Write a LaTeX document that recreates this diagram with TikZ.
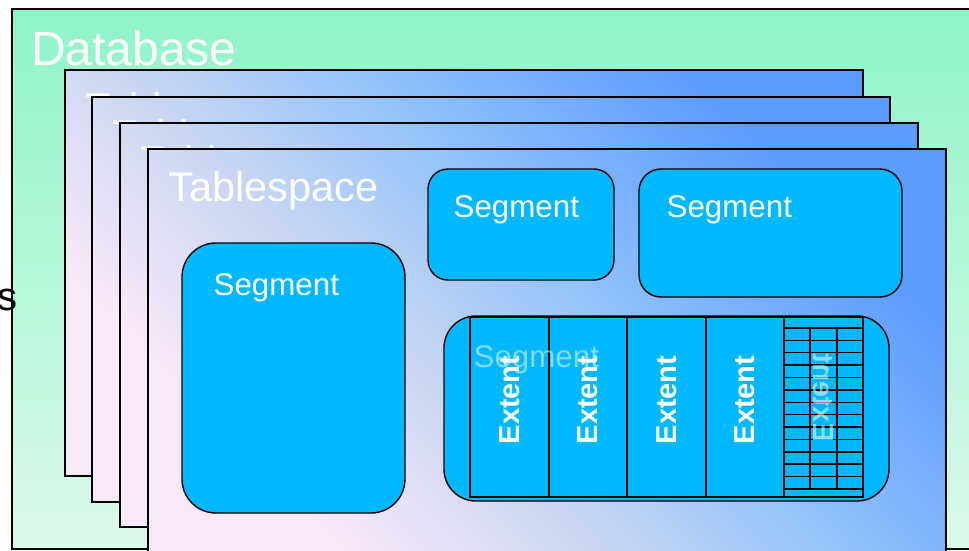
\documentclass[tikz,border=0pt]{standalone}
\usepackage{fontspec}
\setmainfont{Liberation Sans}
\definecolor{dbTop}{RGB}{143,244,201}
\definecolor{dbBot}{RGB}{220,249,234}
\definecolor{tsTop}{RGB}{92,156,255}
\definecolor{tsMid}{RGB}{150,196,250}
\definecolor{tsLav}{RGB}{200,214,242}
\definecolor{tsBot}{RGB}{248,232,248}
\definecolor{segBlue}{RGB}{0,184,255}
\pgfdeclareverticalshading{tsshade}{100bp}{color(0bp)=(tsBot); color(27bp)=(tsBot); color(42bp)=(tsLav); color(55bp)=(tsMid); color(75bp)=(tsTop); color(100bp)=(tsTop)}
\begin{document}
\begin{tikzpicture}[x=1pt,y=-1pt,
  tsbox/.style={draw=black,line width=1.4pt,shading=tsshade,shading angle=-45},
  segbox/.style={draw=black,line width=1.4pt,fill=segBlue},
  tslabel/.style={anchor=base west,inner sep=0,text=white,font=\fontsize{41.5}{41.5}\selectfont},
  seglabel/.style={anchor=base west,inner sep=0,text=white,font=\fontsize{31.3}{31.3}\selectfont},
  extlabel/.style={inner sep=0,text=white,font=\bfseries\fontsize{29}{29}\selectfont,rotate=90},
  gridline/.style={draw=black,line width=1.4pt}
]
\useasboundingbox (0,0) rectangle (969,550);
\clip (0,0) rectangle (969,550);
\fill[white] (0,0) rectangle (969,550);
% Database
\draw[line width=1.6pt,top color=dbTop,bottom color=dbBot] (12,9) rectangle (995,549);
\node[anchor=base west,inner sep=0,text=white,font=\fontsize{48}{48}\selectfont] (db) at (31,65) {Database};
\node[anchor=base west,inner sep=0,text=black,font=\fontsize{40}{40}\selectfont] (s) at (-3,310) {s};
% Tablespaces
\foreach \l/\t/\r/\b [count=\i] in {65/70/863/476, 92/97/890/502, 120/123/918/527, 148/149/946/560}{
  \path[tsbox] (\l,\t) rectangle (\r,\b);
  \draw[line width=1.4pt] (\l,\t) rectangle (\r,\b);
  \node[tslabel] (ts\i) at (\l+20.5,\t+52) {Tablespace};
}
% Segments
\draw[segbox,rounded corners=34pt] (182,243) rectangle (405,513);
\node[seglabel] (seg1) at (213.5,295) {Segment};
\draw[segbox,rounded corners=20pt] (428,169) rectangle (614,280);
\node[seglabel] (seg2) at (453.5,217) {Segment};
\draw[segbox,rounded corners=22pt] (639,169) rectangle (902,297);
\node[seglabel] (seg3) at (666.5,217) {Segment};
\draw[segbox,rounded corners=32pt] (444,316) rectangle (889,501);
% Extents
\draw[gridline] (470,317) rectangle (863,497);
\foreach \x in {549,627,706,784} \draw[gridline] (\x,317) -- (\x,497);
\foreach \k in {0,...,13} \draw[gridline] (784,328+12.38*\k) -- (863,328+12.38*\k);
\foreach \x in {810,837} \draw[gridline] (\x,328) -- (\x,489);
\foreach \x [count=\i] in {509.5,588,666.5,745}
  \node[extlabel] (ext\i) at (\x,400) {Extent};
\node[extlabel,yscale=-1,opacity=0.55] (ext5) at (823,398) {Extent};
\node[seglabel,opacity=0.5] (seg4) at (473.5,367) {Segment};
\end{tikzpicture}
\end{document}
